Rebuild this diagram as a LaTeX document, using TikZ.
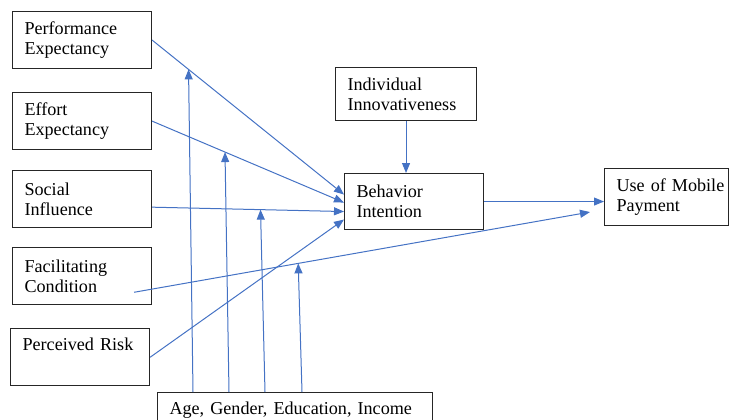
\documentclass[tikz,border=0pt]{standalone}
\usepackage{fontspec}
\setmainfont{Liberation Serif}
\usetikzlibrary{arrows.meta, positioning, calc}
\definecolor{LinkBlue}{RGB}{68, 114, 196}
\definecolor{BoxGray}{RGB}{38, 38, 38}

\begin{document}
\begin{tikzpicture}[
    x=0.75pt, y=-0.75pt,
    every node/.style={font=\fontsize{13.6pt}{15pt}\selectfont},
    constructbox/.style={rectangle, draw=BoxGray, fill=white, line width=0.8pt, align=left, inner xsep=9pt, inner ysep=0pt, text width=86.25pt, minimum height=42.75pt},
    arrow/.style={-{Triangle[length=7.5pt, width=6pt]}, draw=LinkBlue, line width=0.75pt}
  ]
    \useasboundingbox (0,0) rectangle (729,419);

    % Column 1: Predictors
    \node[constructbox, anchor=north west] (perf) at (12,11) {Performance\\Expectancy};
    \node[constructbox, below=17.25pt of perf] (effort) {Effort\\Expectancy};
    \node[constructbox, below=15pt of effort] (social) {Social\\Influence};
    \node[constructbox, below=14.25pt of social] (facil) {Facilitating\\Condition};
    \node[constructbox, below=17.25pt of facil, xshift=-1.5pt] (risk) {Perceived Risk\\\strut};

    % Column 2: Intention & Outcome
    \node[constructbox, anchor=north west, text width=87.75pt, minimum height=39.75pt] (innov) at (335,67) {Individual\\Innovativeness};
    \node[constructbox, anchor=north west, minimum height=42pt] (intent) at (344,173) {Behavior\\Intention};
    \node[constructbox, anchor=north west, text width=75pt] (use) at (604,168) {\mbox{Use of Mobile}\\Payment};

    % Moderators
    \node[constructbox, anchor=north west, text width=188.25pt] (demo) at (157,392) {Age, Gender, Education, Income\\\strut};

    % Connections
    \draw[arrow] (perf.east) -- coordinate[pos=0.19] (perf-mod) ($(intent.west)+(0,-7)$);
    \draw[arrow] (effort.east) -- coordinate[pos=0.38] (effort-mod) ($(intent.west)+(0,1)$);
    \draw[arrow] ($(social.east)+(0,8)$) -- coordinate[pos=0.565] (social-mod) ($(intent.west)+(0,10)$);
    \draw[arrow] (risk.east) -- ($(intent.west)+(0,18)$);
    \coordinate (facil-start) at ($(facil.south east)+(-18,-13)$);
    \coordinate (facil-end) at ($(use.west)+(-14,15)$);
    \draw[arrow] (facil-start) -- coordinate[pos=0.36] (facil-mod) (facil-end);
    \draw[arrow] (innov.south) -- (innov.south |- intent.north);
    \draw[arrow] (intent.east) -- (intent.east -| use.west);

    \draw[arrow] ($(demo.north west)+(36,0)$) -- (perf-mod);
    \draw[arrow] ($(demo.north west)+(72,0)$) -- (effort-mod);
    \draw[arrow] ($(demo.north west)+(108,0)$) -- (social-mod);
    \draw[arrow] ($(demo.north west)+(145,0)$) -- (facil-mod);
  \end{tikzpicture}
\end{document}
